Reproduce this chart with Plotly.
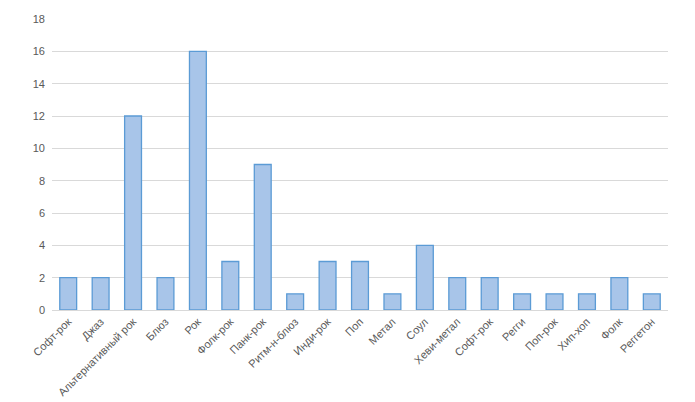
import plotly.graph_objects as go

categories = ["Софт-рок", "Джаз", "Альтернативный рок", "Блюз", "Рок", "Фолк-рок",
              "Панк-рок", "Ритм-н-блюз", "Инди-рок", "Поп", "Метал", "Соул",
              "Хеви-метал", "Софт-рок", "Регги", "Поп-рок", "Хип-хоп", "Фолк", "Реггетон"]
values = [2, 2, 12, 2, 16, 3, 9, 1, 3, 3, 1, 4, 2, 2, 1, 1, 1, 2, 1]
y_ticks = [0, 2, 4, 6, 8, 10, 12, 14, 16, 18]

positions = list(range(len(categories)))

fig = go.Figure()
fig.add_trace(go.Bar(
    x=positions, y=values,
    marker=dict(color="#a8c5e9", line=dict(color="#5b9bd5", width=1.3)),
    width=0.52,
))

fig.update_layout(
    width=695, height=402,
    margin=dict(l=44, r=35, t=11, b=100),
    paper_bgcolor="white", plot_bgcolor="white",
    font=dict(family="Liberation Sans, Arial, sans-serif", size=11, color="#595959"),
    showlegend=False,
    xaxis=dict(
        tickmode="array", tickvals=positions, ticktext=categories,
        tickangle=-45, range=[-0.5, len(categories) - 0.5],
        showgrid=False, showline=True, linecolor="#d9d9d9", linewidth=1,
        ticks="", zeroline=False, automargin=False,
    ),
    yaxis=dict(
        range=[0, 18], tickvals=y_ticks, showgrid=True, gridcolor="#d9d9d9",
        gridwidth=1, zeroline=False, showline=False, ticks="", automargin=False,
        ticklabelstandoff=6,
    ),
)

fig.write_html("out.html")
